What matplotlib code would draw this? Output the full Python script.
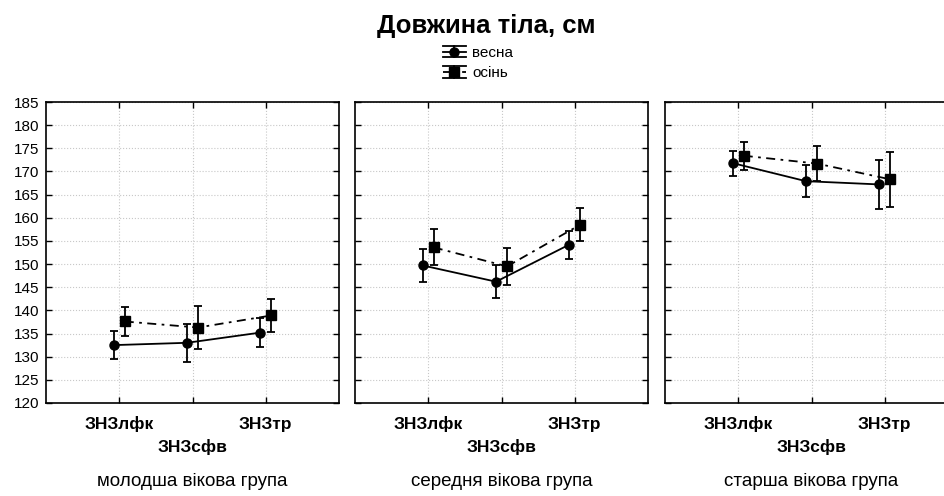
import matplotlib.pyplot as plt
from matplotlib.lines import Line2D
from matplotlib.legend_handler import HandlerBase

plt.rcParams['font.family'] = ['Liberation Sans', 'DejaVu Sans']

categories = ['ЗНЗлфк', 'ЗНЗсфв', 'ЗНЗтр']
groups = ['молодша вікова група', 'середня вікова група', 'старша вікова група']

spring_mean = [[132.5, 133.0, 135.2], [149.7, 146.2, 154.2], [171.8, 167.9, 167.2]]
spring_err = [[3.0, 4.1, 3.1], [3.6, 3.6, 3.0], [2.7, 3.5, 5.2]]
autumn_mean = [[137.6, 136.3, 138.9], [153.6, 149.5, 158.5], [173.4, 171.7, 168.3]]
autumn_err = [[3.1, 4.6, 3.6], [3.9, 4.0, 3.6], [3.0, 3.8, 5.9]]

yticks = list(range(120, 186, 5))

DASHDOT = (0, (5, 3, 1.5, 3))


class ErrHandler(HandlerBase):
    # line + marker with whisker lines above and below, like the original legend
    def create_artists(self, legend, orig_handle, xdescent, ydescent,
                       width, height, fontsize, trans):
        yc = height / 2 - ydescent
        dy = height * 0.55
        arts = []
        arts.append(Line2D([-xdescent, width - xdescent], [yc, yc], color='black',
                           lw=1.3, ls=orig_handle.get_linestyle(), transform=trans))
        arts.append(Line2D([width / 2 - xdescent], [yc], color='black', ls='none',
                           marker=orig_handle.get_marker(), ms=6.5, transform=trans))
        for s in (-1, 1):
            arts.append(Line2D([-xdescent, width - xdescent], [yc + s * dy] * 2,
                               color='black', lw=1.3, transform=trans))
        arts.append(Line2D([width / 2 - xdescent] * 2, [yc - dy, yc + dy],
                           color='black', lw=1.3, transform=trans))
        return arts


W, H = 944, 496
fig = plt.figure(figsize=(W / 100, H / 100), dpi=100)

lefts = [46, 355, 665]
pw = 293
top, bottom = 102, 403
x = [1, 2, 3]
off = 0.075

for i in range(3):
    ax = fig.add_axes([lefts[i] / W, (H - bottom) / H, pw / W, (bottom - top) / H])
    xs = [v - off for v in x]
    xa = [v + off for v in x]
    ax.errorbar(xs, spring_mean[i], yerr=spring_err[i], color='black', lw=1.3,
                marker='o', ms=6.5, capsize=3, elinewidth=1.3, capthick=1.3, ls='-')
    ax.errorbar(xa, autumn_mean[i], yerr=autumn_err[i], color='black', lw=1.3,
                marker='s', ms=6.5, capsize=3, elinewidth=1.3, capthick=1.3,
                ls=DASHDOT)
    ax.set_xlim(0, 4)
    ax.set_ylim(120, 185)
    ax.set_yticks(yticks)
    ax.set_xticks(x)
    ax.set_xticklabels([])
    ax.grid(True, color='#c8c8c8', ls=':', lw=0.8)
    ax.tick_params(direction='in', length=4, width=1, top=True, right=True,
                   labelsize=11, pad=5)
    if i > 0:
        ax.set_yticklabels([])
    for s in ax.spines.values():
        s.set_linewidth(1.2)
    for j, c in enumerate(categories):
        ax.annotate(c, xy=(x[j], 0), xycoords=('data', 'axes fraction'),
                    xytext=(0, -26 if j != 1 else -49), textcoords='offset pixels',
                    ha='center', va='baseline', fontsize=12.5, fontweight='bold')
    ax.annotate(groups[i], xy=(0.5, 0), xycoords='axes fraction',
                xytext=(0, -83), textcoords='offset pixels',
                ha='center', va='baseline', fontsize=13.5)

fig.text(486 / W, 1 - 33 / H, 'Довжина тіла, см', ha='center', va='baseline',
         fontsize=18.5, fontweight='bold')

h1 = Line2D([], [], color='black', marker='o', ls='-')
h2 = Line2D([], [], color='black', marker='s', ls=DASHDOT)
fig.legend([h1, h2], ['весна', 'осінь'], loc='center',
           bbox_to_anchor=(478 / W, 1 - 63 / H),
           handler_map={Line2D: ErrHandler()},
           frameon=False, fontsize=11, handlelength=1.5, handletextpad=0.4,
           labelspacing=0.4, borderpad=0)

fig.savefig('out.png', dpi=100)
